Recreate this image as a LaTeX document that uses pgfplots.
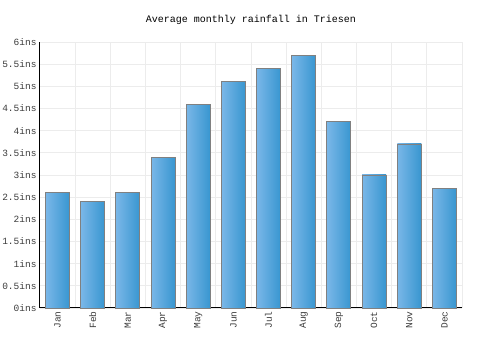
\documentclass[border=0pt]{standalone}
\usepackage{pgfplots}
\pgfplotsset{compat=1.18}
\usepackage{fontspec}
\setmainfont{Liberation Mono}
\setmonofont{Liberation Mono}
\definecolor{barL}{RGB}{122,183,232}
\definecolor{barR}{RGB}{56,150,208}
\definecolor{barE}{RGB}{128,128,128}
\definecolor{gridc}{RGB}{236,236,236}
\definecolor{txt}{RGB}{60,60,60}
\tikzset{mybar/.style={draw=barE, line width=0.9pt, left color=barL, right color=barR}}
\begin{document}
\begin{tikzpicture}[x=1pt,y=1pt]
\useasboundingbox (0,0) rectangle (500,350);
\node[font=\fontsize{10}{12}\selectfont, text=black] at (251,330) {Average monthly rainfall in Triesen};
\begin{axis}[
  at={(40pt,42pt)}, anchor=south west,
  scale only axis, width=422pt, height=266pt,
  ymin=0, ymax=6,
  xmin=-0.5, xmax=11.5,
  ytick={0,0.5,...,6},
  yticklabel={\pgfmathprintnumber{\tick}ins},
  /pgf/number format/assume math mode=true,
  xtick={0,...,11},
  xticklabels={Jan,Feb,Mar,Apr,May,Jun,Jul,Aug,Sep,Oct,Nov,Dec},
  minor xtick={0.5,1.5,...,11.5},
  x tick label style={rotate=90, anchor=east, font=\fontsize{9.5}{11}\selectfont, text=txt},
  y tick label style={font=\fontsize{9.5}{11}\selectfont, text=txt},
  major tick length=0pt, minor tick length=0pt,
  ymajorgrids, xminorgrids,
  grid style={gridc, line width=0.8pt},
  minor grid style={gridc, line width=0.8pt},
  axis x line*=bottom, axis y line*=left,
  axis line style={black, line width=1pt, -},
  ybar, bar width=24pt, bar shift=0pt,
  clip=false,
]
\addplot[mybar] coordinates {(0,2.6)};
\addplot[mybar] coordinates {(1,2.4)};
\addplot[mybar] coordinates {(2,2.6)};
\addplot[mybar] coordinates {(3,3.4)};
\addplot[mybar] coordinates {(4,4.6)};
\addplot[mybar] coordinates {(5,5.1)};
\addplot[mybar] coordinates {(6,5.4)};
\addplot[mybar] coordinates {(7,5.7)};
\addplot[mybar] coordinates {(8,4.2)};
\addplot[mybar] coordinates {(9,3.0)};
\addplot[mybar] coordinates {(10,3.7)};
\addplot[mybar] coordinates {(11,2.7)};
\end{axis}
\end{tikzpicture}
\end{document}
